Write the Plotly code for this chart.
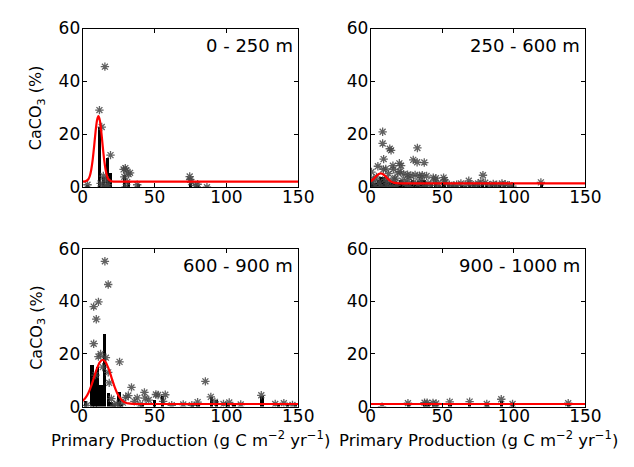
import plotly.graph_objects as go

# ---------------- data ----------------
panel_labels = ["0 - 250 m", "250 - 600 m", "600 - 900 m", "900 - 1000 m"]
x_ticks = [0, 50, 100, 150]
y_ticks = [0, 20, 40, 60]
y_title = "CaCO<sub>3</sub> (%)"
x_title = "Primary Production (g C m<sup>−2</sup> yr<sup>−1</sup>)"

# 0 - 250 m
pp_0_250 = [3.4, 15.5, 11.7, 13.3, 19.4, 14.4, 16.0, 17.5, 29.7, 30.3, 32.0, 29.0, 31.0, 38.0,
            74.5, 74.8, 75.5, 78.6, 80.0, 86.5, 12.5, 15.0, 17.0, 30.0, 28.5, 33.0]
ca_0_250 = [1.0, 45.6, 29.2, 22.8, 12.2, 4.3, 3.0, 1.0, 7.3, 6.5, 5.0, 4.0, 2.0, 1.0,
            4.1, 3.0, 2.0, 0.7, 1.2, 0.1, 1.5, 0.3, 0.2, 0.2, 6.8, 5.5]
bar_x_0_250 = [3.0, 11.6, 14.0, 17.0, 19.4, 29.0, 31.5, 38.5, 74.5, 79.5]
bar_y_0_250 = [1.0, 23.0, 4.3, 11.3, 5.8, 4.7, 2.5, 1.5, 1.9, 1.0]
fit_x_0_250 = [0, 2, 4, 5, 6, 7, 8, 9, 10, 11, 12, 13, 14, 15, 16, 17, 18, 20, 22, 150]
fit_y_0_250 = [2.2, 2.3, 3.1, 4.3, 6.7, 10.4, 15.5, 21.0, 25.3, 26.9, 25.3, 21.0, 15.5, 10.4,
               6.7, 4.3, 3.1, 2.3, 2.2, 2.2]

# 250 - 600 m
pp_250_600 = [8.3, 8.3, 13.3, 14.2, 9.0, 32.6, 29.7, 32.4, 37.4, 15.5, 20.0, 21.2, 0.5, 8.8,
              15.8, 19.0, 25.7, 28.0, 31.0, 34.0, 36.0, 39.0, 43.7, 50.9, 45.0, 68.5, 78.4,
              118.9, 85.6, 91.7, 96.8, 63.0, 2.0, 4.0, 6.0, 10.0, 12.0, 17.0, 22.0, 24.0, 26.0,
              30.0, 33.0, 35.0, 40.0, 42.0, 47.0, 52.0, 55.0, 58.0, 60.0, 66.0, 70.0, 73.0, 75.0,
              80.0, 83.0, 88.0, 94.0, 99.0, 3.0, 7.0, 11.0, 14.0, 18.0, 27.0, 37.0, 48.0, 5.0,
              12.5, 10.5, 16.5, 20.5, 23.0, 0.8, 45.5, 51.5, 77.0]
ca_250_600 = [21.0, 16.6, 14.6, 14.0, 10.7, 14.9, 10.4, 9.5, 9.4, 8.2, 9.1, 8.2, 5.8, 6.8,
              6.8, 5.5, 4.8, 4.5, 4.7, 4.4, 4.6, 4.3, 3.7, 3.7, 2.5, 2.5, 4.6,
              1.9, 1.3, 1.5, 0.8, 1.5, 3.0, 4.0, 2.0, 3.0, 2.5, 3.5, 2.5, 1.5, 3.0,
              2.0, 1.2, 2.8, 1.5, 0.8, 1.5, 2.0, 1.0, 0.7, 1.0, 0.8, 1.2, 0.6, 1.5,
              1.8, 0.8, 1.0, 1.2, 0.5, 0.5, 0.3, 0.6, 0.4, 0.8, 0.3, 0.4, 0.3, 8.0,
              5.2, 7.0, 3.0, 6.0, 5.0, 2.5, 3.5, 2.8, 2.0]
bar_x_250_600 = [1, 3, 5, 7, 9, 11, 13, 15, 17, 19, 21, 23, 25, 27, 29, 31, 33, 35, 37, 39,
                 42, 45, 48, 51, 54, 57, 60, 63, 66, 69, 72, 75, 78, 81, 84, 87, 90, 93, 96, 99, 119]
bar_y_250_600 = [2.4, 2.0, 3.0, 4.1, 4.0, 2.8, 2.2, 1.8, 2.0, 1.6, 3.1, 1.5, 2.0, 1.5, 2.8, 1.6,
                 2.6, 3.0, 3.0, 2.0, 1.4, 1.5, 1.2, 2.3, 1.3, 1.0, 1.2, 1.0, 0.8, 1.2, 1.6, 1.3,
                 1.8, 1.5, 1.3, 1.7, 1.2, 1.1, 0.8, 0.8, 1.6]
fit_x_250_600 = [0, 2, 4, 6, 7, 8, 10, 12, 14, 16, 18, 20, 150]
fit_y_250_600 = [2.3, 3.24, 4.37, 5.19, 5.3, 5.19, 4.37, 3.24, 2.3, 1.8, 1.59, 1.52, 1.5]

# 600 - 900 m
pp_600_900 = [15.5, 17.8, 11.0, 7.7, 9.5, 7.7, 11.0, 16.2, 25.7, 17.8, 34.0, 31.8, 43.0, 43.5,
              51.0, 52.5, 38.0, 85.4, 89.2, 124.3, 80.0, 102.0, 140.0, 134.0, 12.5, 14.0,
              20.0, 24.0, 28.0, 36.0, 40.0, 46.0, 56.0, 62.0, 70.0, 76.0, 92.0, 98.0, 110.0,
              146.0, 3.0, 9.0, 18.5, 22.0, 30.0, 57.5]
ca_600_900 = [55.2, 46.4, 39.8, 38.0, 33.2, 23.9, 19.0, 18.6, 17.0, 13.0, 7.3, 4.2, 5.4, 3.2,
              4.6, 4.4, 3.3, 9.6, 3.7, 4.3, 1.7, 1.6, 1.3, 1.0, 20.0, 15.0,
              3.0, 1.0, 1.5, 2.0, 0.8, 2.5, 2.0, 0.5, 0.8, 0.5, 1.8, 1.0, 0.8,
              0.6, 0.5, 12.0, 9.0, 0.6, 3.5, 4.5]
bar_x_600_900 = [1.5, 6.3, 8.3, 10.2, 12.5, 15.0, 17.5, 19.8, 22.0, 25.0, 27.0, 41.0, 50.0, 55.5,
                 76.0, 80.0, 89.5, 93.0, 101.0, 105.0, 124.5, 136.0, 142.0, 148.0]
bar_y_600_900 = [2.4, 16.0, 12.0, 15.2, 8.2, 27.8, 5.2, 2.0, 1.0, 5.5, 1.0, 1.6, 2.5, 4.0,
                 1.0, 1.2, 3.7, 2.7, 1.0, 1.0, 4.3, 1.0, 0.8, 0.8]
fit_x_600_900 = [0, 2, 4, 6, 8, 10, 12, 14, 16, 18, 20, 22, 24, 26, 28, 30, 32, 35, 40, 150]
fit_y_600_900 = [2.1, 3.3, 5.2, 7.9, 11.2, 14.5, 16.9, 17.8, 16.9, 14.5, 11.2, 7.9, 5.2, 3.3,
                 2.1, 1.5, 1.2, 1.05, 1.0, 1.0]

# 900 - 1000 m
pp_900_1000 = [7.9, 26.0, 37.6, 39.4, 43.5, 45.7, 55.2, 69.1, 81.1, 91.2, 99.1, 138.0]
ca_900_1000 = [0.0, 1.3, 1.5, 1.5, 1.4, 1.2, 1.8, 1.9, 1.0, 2.8, 1.0, 1.3]
bar_x_900_1000 = [26.0, 37.6, 39.8, 43.5, 45.7, 55.2, 69.1, 81.1, 91.2, 99.1, 138.0]
bar_y_900_1000 = [1.0, 1.5, 1.5, 1.4, 1.2, 1.0, 1.2, 1.0, 2.4, 0.8, 0.8]
fit_x_900_1000 = [0, 150]
fit_y_900_1000 = [1.0, 1.0]

# ---------------- figure ----------------
panels = [
    (pp_0_250, ca_0_250, bar_x_0_250, bar_y_0_250, fit_x_0_250, fit_y_0_250),
    (pp_250_600, ca_250_600, bar_x_250_600, bar_y_250_600, fit_x_250_600, fit_y_250_600),
    (pp_600_900, ca_600_900, bar_x_600_900, bar_y_600_900, fit_x_600_900, fit_y_600_900),
    (pp_900_1000, ca_900_1000, bar_x_900_1000, bar_y_900_1000, fit_x_900_1000, fit_y_900_1000),
]

W, H = 634, 467
x_doms = [(72 / W, 295 / W), (370 / W, 592 / W)]
y_doms = [(1 - 177 / H, 1 - 11 / H), (1 - 406 / H, 1 - 241 / H)]

FONT = "DejaVu Sans"
STAR = "rgba(70,70,70,0.85)"
fig = go.Figure()
layout = dict(
    width=W, height=H,
    margin=dict(l=0, r=0, t=0, b=0),
    paper_bgcolor="white", plot_bgcolor="white",
    showlegend=False,
    font=dict(family=FONT, size=17, color="black"),
    bargap=0,
)

annotations = []
for i, (px, py, bx, by, fx, fy) in enumerate(panels):
    row, col = divmod(i, 2)
    n = i + 1
    xa = "x" if n == 1 else f"x{n}"
    ya = "y" if n == 1 else f"y{n}"
    fig.add_trace(go.Bar(x=bx, y=by, width=2.2, marker=dict(color="black", line=dict(width=0)),
                         xaxis=xa, yaxis=ya))
    fig.add_trace(go.Scatter(x=px, y=py, mode="markers", xaxis=xa, yaxis=ya,
                             marker=dict(symbol="asterisk-open", size=7, color=STAR,
                                         line=dict(width=1.3, color=STAR))))
    fig.add_trace(go.Scatter(x=fx, y=fy, mode="lines", xaxis=xa, yaxis=ya,
                             line=dict(color="red", width=2.2, shape="spline", smoothing=0.6)))
    axis_common = dict(showline=True, mirror="ticks", linecolor="black", linewidth=1,
                       ticks="inside", ticklen=4, tickcolor="black", showgrid=False,
                       zeroline=False, tickfont=dict(family=FONT, size=17, color="black"))
    xkey = "xaxis" if n == 1 else f"xaxis{n}"
    ykey = "yaxis" if n == 1 else f"yaxis{n}"
    layout[xkey] = dict(axis_common, domain=x_doms[col], anchor=ya, range=[0, 150],
                        tickvals=x_ticks, ticktext=[str(t) for t in x_ticks],
                        ticklabelstandoff=-6)
    layout[ykey] = dict(axis_common, domain=y_doms[row], anchor=xa, range=[0, 60],
                        tickvals=y_ticks, ticktext=[str(t) for t in y_ticks],
                        ticklabelstandoff=-2)
    annotations.append(dict(text=panel_labels[i], xref=f"{xa} domain", yref=f"{ya} domain",
                            x=0.985, y=0.975, xanchor="right", yanchor="top", showarrow=False,
                            font=dict(family=FONT, size=18, color="black")))
    if col == 0:
        yc = (y_doms[row][0] + y_doms[row][1]) / 2
        annotations.append(dict(text=y_title, xref="paper", yref="paper", x=25 / W, y=yc,
                                xanchor="center", yanchor="middle", textangle=-90,
                                showarrow=False, font=dict(family=FONT, size=16, color="black")))
    if row == 1:
        xc = (x_doms[col][0] + x_doms[col][1]) / 2
        annotations.append(dict(text=x_title, xref="paper", yref="paper", x=xc, y=1 - 440 / H,
                                xanchor="center", yanchor="middle", showarrow=False,
                                font=dict(family=FONT, size=16.5, color="black")))

layout["annotations"] = annotations
fig.update_layout(**layout)
fig.write_html("out.html")
